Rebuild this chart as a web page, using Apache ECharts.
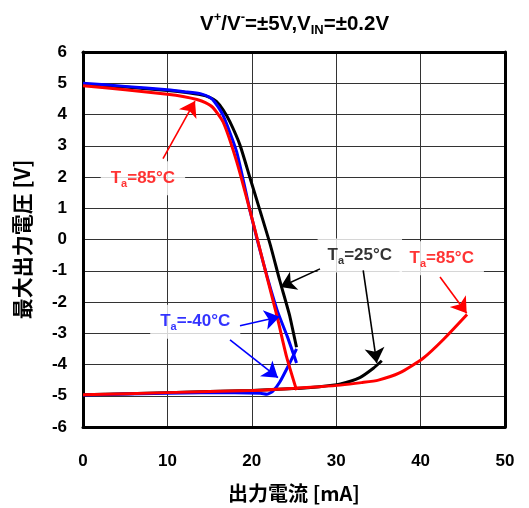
<!DOCTYPE html>
<html>
<head>
<meta charset="utf-8">
<script src="https://cdn.jsdelivr.net/npm/echarts@6/dist/echarts.min.js"></script>
<style>
  html, body { margin: 0; padding: 0; background: #fff; }
  #chart { width: 529px; height: 508px; }
</style>
</head>
<body>
<div id="chart"></div>
<script>
// Output voltage swing vs. output current, V+/V- = ±5V, VIN = ±0.2V
const xTicks = [0, 10, 20, 30, 40, 50];
const yTicks = [-6, -5, -4, -3, -2, -1, 0, 1, 2, 3, 4, 5, 6];

// [output current mA, output voltage V]
const ta25High = [[0, 4.97], [5, 4.88], [10, 4.77], [12, 4.71], [14, 4.63], [15, 4.55], [15.8, 4.42], [16.6, 4.15], [17.4, 3.77], [18.6, 3.02], [19.8, 1.96], [21, 0.9], [22.2, -0.18], [23.3, -1.3], [24.5, -2.45], [25.3, -3.45]];
const ta25Low = [[0, -4.97], [10, -4.9], [20, -4.83], [25, -4.77], [28, -4.71], [30.5, -4.62], [32.8, -4.42], [34.4, -4.12], [35.4, -3.88]];

const taM40High = [[0, 5.0], [5, 4.9], [10, 4.79], [12, 4.73], [14, 4.66], [15, 4.55], [15.6, 4.4], [16.6, 3.97], [18.2, 2.81], [19.8, 0.91], [21.4, -0.78], [23, -2.26], [24.2, -3.1], [25.3, -3.95]];
const taM40Low = [[0, -4.98], [10, -4.92], [18, -4.9], [21, -4.92], [21.8, -4.95], [22.5, -4.85], [23.3, -4.57], [24.5, -3.95], [25.3, -3.5]];

const ta85High = [[0, 4.92], [5, 4.79], [10, 4.65], [12, 4.57], [13.5, 4.48], [14.5, 4.38], [15.4, 4.22], [16.6, 3.76], [18.2, 2.5], [19.8, 0.91], [21.4, -0.78], [23, -2.47], [24.1, -3.73], [25.3, -4.82]];
const ta85Low = [[0, -4.97], [10, -4.9], [20, -4.83], [25, -4.76], [28, -4.71], [30.5, -4.66], [33, -4.58], [35, -4.5], [37.5, -4.27], [40.3, -3.8], [42.7, -3.2], [45.5, -2.4]];

// Callout text and arrows, placed in axis units
const calloutTexts = [
  { name: '85', at: [7.1, 1.96], color: '#ff0000' },
  { name: '25', at: [32.8, -0.51], color: '#000000' },
  { name: '85', at: [42.5, -0.6], color: '#ff0000' },
  { name: '-40', at: [13.3, -2.63], color: '#0000ff' }
];
const calloutArrows = [
  { from: [9.48, 2.59], to: [13.27, 4.43], color: '#ff0000' },
  { from: [28.08, -0.94], to: [23.4, -1.52], color: '#000000' },
  { from: [33.2, -0.99], to: [34.8, -3.95], color: '#000000' },
  { from: [42.3, -1.2], to: [45.46, -2.36], color: '#ff0000' },
  { from: [18.6, -2.76], to: [23.3, -2.47], color: '#0000ff' },
  { from: [17.42, -3.21], to: [23.1, -4.42], color: '#0000ff' }
];

const FONT = 'Liberation Sans, Arial, sans-serif';
const CJK = '"Noto Sans CJK JP", "Liberation Sans", sans-serif';

function curve(data, color) {
  return {
    type: 'line',
    data: data,
    showSymbol: false,
    smooth: 0.2,
    lineStyle: { color: color, width: 3 },
    silent: true,
    animation: false,
    z: 3
  };
}

const chart = echarts.init(document.getElementById('chart'));

const series = [
  curve(ta25High, '#000000'),
  curve(ta25Low, '#000000'),
  curve(taM40High, '#0000ff'),
  curve(taM40Low, '#0000ff'),
  curve(ta85High, '#ff0000'),
  curve(ta85Low, '#ff0000')
];

calloutArrows.forEach(a => {
  series.push({
    type: 'lines',
    coordinateSystem: 'cartesian2d',
    data: [{ coords: [a.from, a.to] }],
    symbol: ['none', 'arrow'],
    symbolSize: [11, 15],
    lineStyle: { color: a.color, width: 1.6, opacity: 1 },
    silent: true,
    animation: false,
    z: 5
  });
});

calloutTexts.forEach(c => {
  series.push({
    type: 'scatter',
    data: [c.at],
    symbolSize: 1,
    itemStyle: { color: 'rgba(0,0,0,0)' },
    silent: true,
    animation: false,
    z: 4,
    label: {
      show: true,
      position: 'inside',
      formatter: '{t|T}{s|a}{t|=' + c.name + '°C}',
      backgroundColor: '#ffffff',
      padding: [6, 10],
      rich: {
        t: { fontFamily: FONT, fontSize: 17, fontWeight: 'bold', color: c.color, lineHeight: 22, verticalAlign: 'middle' },
        s: { fontFamily: FONT, fontSize: 11, fontWeight: 'bold', color: c.color, lineHeight: 12, verticalAlign: 'bottom' }
      }
    }
  });
});

const frameLine = { show: true, onZero: false, lineStyle: { color: '#000', width: 3 } };

chart.setOption({
  animation: false,
  backgroundColor: '#ffffff',
  title: {
    text: '{m|V}{p|+}{m|/V}{p|-}{m|=±5V,V}{b|IN}{m|=±0.2V}',
    left: 195,
    top: 6,
    textStyle: {
      rich: {
        m: { fontFamily: FONT, fontSize: 20.5, fontWeight: 'bold', color: '#000', lineHeight: 26, verticalAlign: 'middle' },
        p: { fontFamily: FONT, fontSize: 13, fontWeight: 'bold', color: '#000', lineHeight: 13, verticalAlign: 'top' },
        b: { fontFamily: FONT, fontSize: 13, fontWeight: 'bold', color: '#000', lineHeight: 13, verticalAlign: 'bottom' }
      }
    }
  },
  grid: { left: 83, right: 24, top: 52, bottom: 76 },
  xAxis: [{
    type: 'value',
    min: xTicks[0], max: xTicks[xTicks.length - 1], interval: 10,
    axisLine: frameLine,
    axisTick: { show: false },
    splitLine: { show: true, lineStyle: { color: '#333', width: 1 } },
    axisLabel: { fontFamily: FONT, fontSize: 17, fontWeight: 'bold', color: '#000', margin: 26 },
    name: '出力電流 [mA]',
    nameLocation: 'middle',
    nameGap: 56,
    nameTextStyle: { fontFamily: CJK, fontSize: 20, fontWeight: 'bold', color: '#000' }
  }, {
    type: 'value', position: 'top',
    min: xTicks[0], max: xTicks[xTicks.length - 1], interval: 10,
    axisLine: frameLine, axisTick: { show: false }, axisLabel: { show: false }, splitLine: { show: false }
  }],
  yAxis: [{
    type: 'value',
    min: yTicks[0], max: yTicks[yTicks.length - 1], interval: 1,
    axisLine: frameLine,
    axisTick: { show: false },
    splitLine: { show: true, lineStyle: { color: '#333', width: 1 } },
    axisLabel: { fontFamily: FONT, fontSize: 17, fontWeight: 'bold', color: '#000', margin: 16 },
    name: '最大出力電圧 [V]',
    nameLocation: 'middle',
    nameGap: 50,
    nameTextStyle: { fontFamily: CJK, fontSize: 21, fontWeight: 'bold', color: '#000' }
  }, {
    type: 'value', position: 'right',
    min: yTicks[0], max: yTicks[yTicks.length - 1], interval: 1,
    axisLine: frameLine, axisTick: { show: false }, axisLabel: { show: false }, splitLine: { show: false }
  }],
  series: series
});
</script>
</body>
</html>
